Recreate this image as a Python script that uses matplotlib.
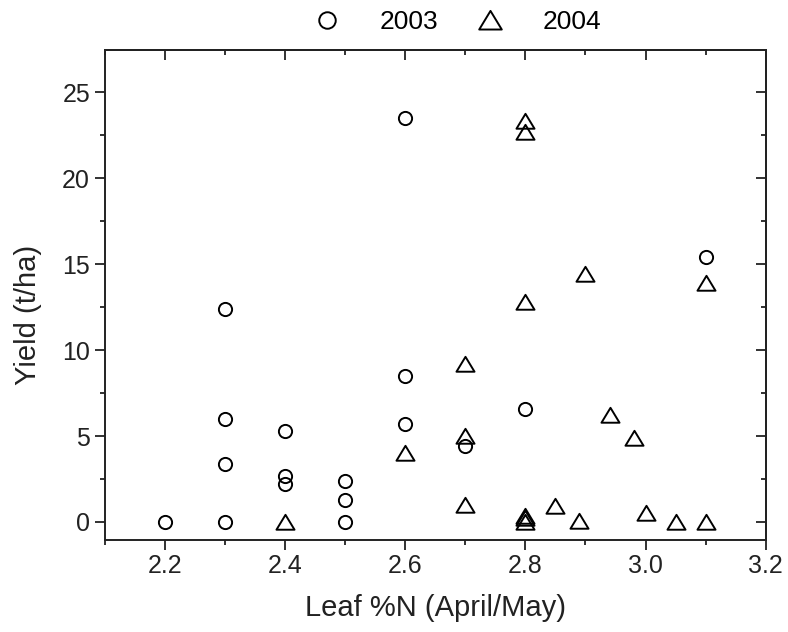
import matplotlib
matplotlib.use("Agg")
import matplotlib.pyplot as plt
from matplotlib.path import Path
from matplotlib.ticker import MultipleLocator, FormatStrFormatter

plt.rcParams['font.family'] = ['Liberation Sans', 'DejaVu Sans']

# 2003 data (circles)
x_2003 = [2.2, 2.3, 2.3, 2.3, 2.3, 2.4, 2.4, 2.4, 2.5, 2.5, 2.5, 2.6, 2.6, 2.6, 2.7, 2.8, 3.1]
y_2003 = [0.0, 0.0, 3.4, 6.0, 12.4, 5.3, 2.7, 2.2, 2.4, 1.3, 0.0, 23.5, 8.5, 5.7, 4.4, 6.6, 15.4]

# 2004 data (triangles)
x_2004 = [2.4, 2.6, 2.7, 2.7, 2.7, 2.8, 2.8, 2.8, 2.8, 2.8, 2.8,
          2.85, 2.89, 2.9, 2.94, 2.98, 3.0, 3.05, 3.1, 3.1]
y_2004 = [0.0, 4.0, 9.2, 5.0, 1.0, 23.3, 22.7, 12.8, 0.37, 0.2, 0.0,
          0.9, 0.05, 14.4, 6.2, 4.9, 0.5, 0.0, 13.9, 0.0]

series_labels = ["2003", "2004"]

tri = Path([(-1, -0.8), (1, -0.8), (0, 0.85), (-1, -0.8)],
           [Path.MOVETO, Path.LINETO, Path.LINETO, Path.CLOSEPOLY])

ink = '#222222'
fig = plt.figure(figsize=(7.88, 6.32), dpi=100)
ax = fig.add_axes([0.1332, 0.1456, 0.9717 - 0.1332, 0.9209 - 0.1456])

ax.plot(x_2003, y_2003, linestyle='none', marker='o', markersize=9.5,
        markerfacecolor='none', markeredgecolor='black', markeredgewidth=1.4,
        label=series_labels[0])
ax.plot(x_2004, y_2004, linestyle='none', marker=tri, markersize=13,
        markerfacecolor='none', markeredgecolor='black', markeredgewidth=1.4,
        label=series_labels[1])

ax.set_xlim(2.1, 3.2)
ax.set_ylim(-1.05, 27.46)
ax.xaxis.set_major_locator(MultipleLocator(0.2))
ax.xaxis.set_minor_locator(MultipleLocator(0.1))
ax.xaxis.set_major_formatter(FormatStrFormatter('%.1f'))
ax.yaxis.set_major_locator(MultipleLocator(5))
ax.yaxis.set_minor_locator(MultipleLocator(2.5))

for s in ax.spines.values():
    s.set_linewidth(1.4)
    s.set_color(ink)

ax.tick_params(which='both', direction='out', top=False, right=False,
               width=1.3, colors=ink, labelsize=18, labelcolor=ink)
ax.tick_params(which='major', length=7.2)
ax.tick_params(which='minor', length=3.6)
ax.tick_params(axis='x', which='major', pad=3)
ax.tick_params(axis='y', which='major', pad=3.5)

# inward mirrored ticks on top and right
ax2 = ax.secondary_xaxis('top')
ax2.xaxis.set_major_locator(MultipleLocator(0.2))
ax2.xaxis.set_minor_locator(MultipleLocator(0.1))
ax2.tick_params(which='both', direction='in', labeltop=False, width=1.3, colors=ink)
ax2.tick_params(which='major', length=7.2)
ax2.tick_params(which='minor', length=3.6)
ax2.spines['top'].set_linewidth(1.4)
ax2.spines['top'].set_color(ink)
ax3 = ax.secondary_yaxis('right')
ax3.yaxis.set_major_locator(MultipleLocator(5))
ax3.yaxis.set_minor_locator(MultipleLocator(2.5))
ax3.tick_params(which='both', direction='in', labelright=False, width=1.3, colors=ink)
ax3.tick_params(which='major', length=7.2)
ax3.tick_params(which='minor', length=3.6)
ax3.spines['right'].set_linewidth(1.4)
ax3.spines['right'].set_color(ink)

ax.set_xlabel("Leaf %N (April/May)", fontsize=21, color=ink)
ax.set_ylabel("Yield (t/ha)", fontsize=21, color=ink)
ax.xaxis.set_label_coords(0.5, -0.110)
ax.yaxis.set_label_coords(-0.0954, 0.459)

fig.legend(loc='center', bbox_to_anchor=(0.5806, 0.965), ncol=2, frameon=False,
           fontsize=19, handletextpad=1.48, columnspacing=1.48, handlelength=1.0,
           markerscale=1.25)

fig.savefig("out.png", dpi=100)
